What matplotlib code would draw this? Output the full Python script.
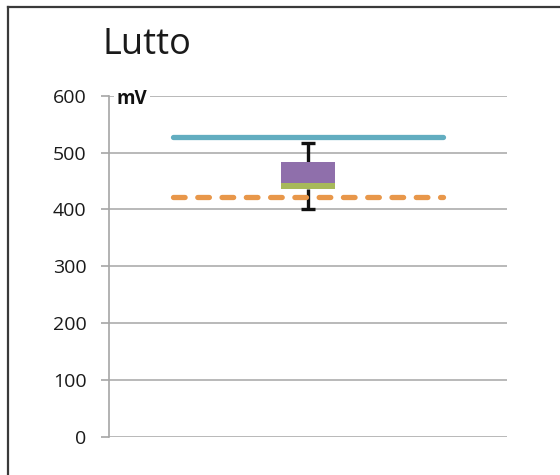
import matplotlib
matplotlib.use("Agg")
import matplotlib.pyplot as plt
from matplotlib.lines import Line2D

# ---- data ----
title = "Lutto"
unit = "mV"
yticks = [0, 100, 200, 300, 400, 500, 600]
box_low = 436      # bottom of green segment
box_mid = 447      # green/purple boundary
box_high = 484     # top of purple segment
whisker_low = 401
whisker_high = 516
upper_limit = 528
lower_limit = 422

plt.rcParams['font.family'] = ['Open Sans', 'DejaVu Sans']

fig = plt.figure(figsize=(5.6, 4.75), dpi=100)
ax = fig.add_axes([109/560, 1-437/475, (507-109)/560, (437-95.7)/475])

grid_c = '#a6a6a6'
ax.set_xlim(0, 1)
ax.set_ylim(0, 600)
ax.set_yticks(yticks)
ax.set_yticklabels([str(v) for v in yticks], fontsize=14, color='#1a1a1a')
for lbl in ax.get_yticklabels():
    lbl.set_va('center_baseline')
ax.set_xticks([])
for s in ['top', 'right', 'bottom']:
    ax.spines[s].set_visible(False)
ax.spines['left'].set_color(grid_c)
ax.spines['left'].set_linewidth(1.2)
ax.tick_params(axis='y', length=5.8, width=1.2, color=grid_c, pad=10.5)
ax.yaxis.grid(True, color=grid_c, linewidth=1.1)
ax.set_axisbelow(True)

cx = 0.5
bw = 0.135
ax.bar([cx], [box_mid - box_low], bottom=[box_low], width=bw, color='#a7b95a', zorder=3)
ax.bar([cx], [box_high - box_mid], bottom=[box_mid], width=bw, color='#8f6fab', zorder=3)
ax.vlines(cx, whisker_low, box_low, color='#111111', linewidth=2.4, zorder=2)
ax.vlines(cx, box_high, whisker_high, color='#111111', linewidth=2.4, zorder=2)
ax.hlines([whisker_low, whisker_high], cx - 0.018, cx + 0.018, color='#111111', linewidth=2.4, zorder=4)

ax.plot([0.16, 0.84], [upper_limit, upper_limit], color='#62adc0', linewidth=3.8,
        solid_capstyle='round', zorder=5)
ax.plot([0.16, 0.84], [lower_limit, lower_limit], color='#e8974a', linewidth=3.8,
        dashes=(2.2, 2.4), dash_capstyle='round', zorder=5)

ax.text(0.02, 595, unit, fontsize=13.5, fontweight='bold', color='#111111',
        ha='left', va='center', zorder=6,
        bbox=dict(facecolor='white', edgecolor='none', pad=2))

fig.text(103/560, 1-44.5/475, title, fontsize=26, fontweight='normal',
         color='#1a1a1a', ha='left', va='center')

# figure frame (top and left edges visible)
fig.add_artist(Line2D([8/560, 8/560], [0, 1-7/475], transform=fig.transFigure,
                      color='#3a3a3a', linewidth=1.6))
fig.add_artist(Line2D([8/560, 1], [1-7/475, 1-7/475], transform=fig.transFigure,
                      color='#3a3a3a', linewidth=1.6))

fig.savefig("out.png", dpi=100)
